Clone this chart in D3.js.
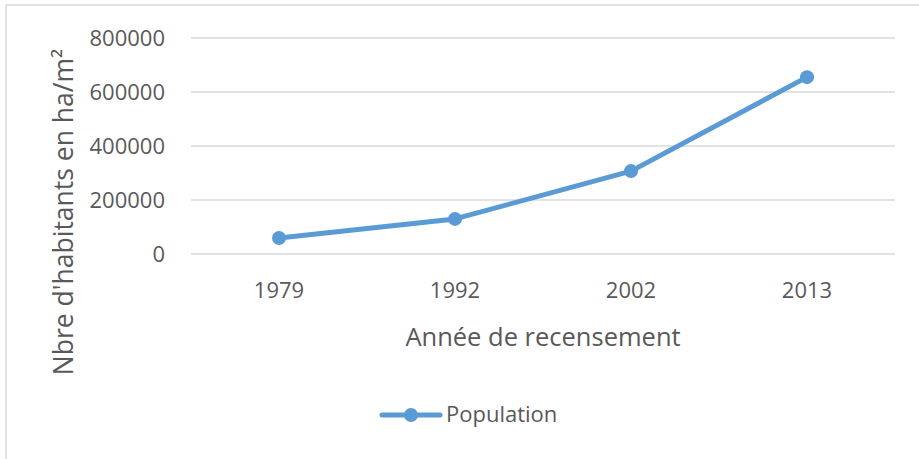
<!DOCTYPE html>
<html>
<head>
<meta charset="utf-8">
<script src="https://cdn.jsdelivr.net/npm/d3@7"></script>
<style>
  body { margin: 0; background: #fff; }
  svg text { font-family: "Open Sans", sans-serif; fill: #595959; }
</style>
</head>
<body>
<script>
// data
var years = ["1979", "1992", "2002", "2013"];
var population = [59000, 130000, 307000, 655000];
var yTicks = [0, 200000, 400000, 600000, 800000];
var seriesName = "Population";

var width = 919, height = 459;
var plotLeft = 191, plotRight = 895, plotTop = 38, plotBottom = 254;
var blue = "#5b9bd5";

var svg = d3.select("body").append("svg")
    .attr("width", width)
    .attr("height", height);

// chart border (top + left visible)
svg.append("line").attr("x1", 6).attr("y1", 5).attr("x2", width).attr("y2", 5)
  .style("stroke", "#d9d9d9").style("stroke-width", 1.5);
svg.append("line").attr("x1", 6).attr("y1", 5).attr("x2", 6).attr("y2", height)
  .style("stroke", "#d9d9d9").style("stroke-width", 1.5);

var x = d3.scaleBand().domain(years).range([plotLeft, plotRight]);
var y = d3.scaleLinear().domain([0, 800000]).range([plotBottom, plotTop]);

//****************************** Grid ******************************
svg.selectAll("line.grid")
  .data(yTicks)
  .enter().append("line")
    .attr("class", "grid")
    .attr("x1", plotLeft)
    .attr("x2", plotRight)
    .attr("y1", function(d){ return y(d); })
    .attr("y2", function(d){ return y(d); })
    .style("stroke", "#d9d9d9")
    .style("stroke-width", 1.5);

// y tick labels
svg.selectAll("text.ytick")
  .data(yTicks)
  .enter().append("text")
    .attr("class", "ytick")
    .attr("x", 165)
    .attr("y", function(d){ return y(d); })
    .attr("dy", "0.36em")
    .attr("text-anchor", "end")
    .style("font-size", "22px")
    .text(function(d){ return d; });

// x tick labels
svg.selectAll("text.xtick")
  .data(years)
  .enter().append("text")
    .attr("class", "xtick")
    .attr("x", function(d){ return x(d) + x.bandwidth() / 2; })
    .attr("y", 298)
    .attr("text-anchor", "middle")
    .style("font-size", "22px")
    .text(function(d){ return d; });

//****************************** Line ******************************
var line = d3.line()
  .x(function(d, i){ return x(years[i]) + x.bandwidth() / 2; })
  .y(function(d){ return y(d); });

svg.append("path")
  .datum(population)
  .attr("d", line)
  .style("fill", "none")
  .style("stroke", blue)
  .style("stroke-width", 5)
  .style("stroke-linejoin", "round")
  .style("stroke-linecap", "round");

svg.selectAll("circle.pt")
  .data(population)
  .enter().append("circle")
    .attr("class", "pt")
    .attr("cx", function(d, i){ return x(years[i]) + x.bandwidth() / 2; })
    .attr("cy", function(d){ return y(d); })
    .attr("r", 7)
    .style("fill", blue);

//****************************** Titles ******************************
svg.append("text")
  .attr("x", (plotLeft + plotRight) / 2)
  .attr("y", 346)
  .attr("text-anchor", "middle")
  .style("font-size", "25.5px")
  .text("Année de recensement");

svg.append("text")
  .attr("transform", "translate(73,212) rotate(-90)")
  .attr("text-anchor", "middle")
  .style("font-size", "26.5px")
  .text("Nbre d'habitants en ha/m²");

//****************************** Legend ******************************
svg.append("line")
  .attr("x1", 382).attr("x2", 440)
  .attr("y1", 415).attr("y2", 415)
  .style("stroke", blue)
  .style("stroke-width", 5)
  .style("stroke-linecap", "round");
svg.append("circle")
  .attr("cx", 411).attr("cy", 415).attr("r", 7)
  .style("fill", blue);
svg.append("text")
  .attr("x", 446)
  .attr("y", 422)
  .style("font-size", "22px")
  .text(seriesName);
</script>
</body>
</html>
